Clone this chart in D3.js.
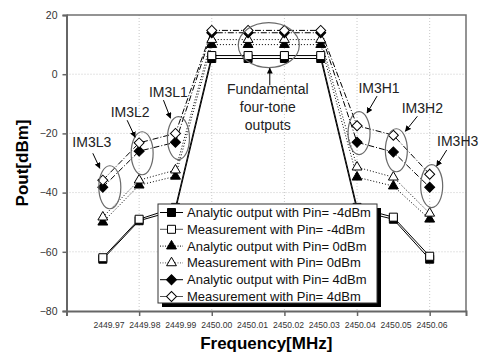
<!DOCTYPE html>
<html>
<head>
<meta charset="utf-8">
<script src="https://cdn.jsdelivr.net/npm/d3@7"></script>
<style>
  body { margin: 0; background: white; }
  svg { display: block; font-family: Arial, "Liberation Sans", sans-serif; }
</style>
</head>
<body>
<div id="chart"></div>
<script>
// frequencies (MHz) of the four tones and the IM3 products
const freqs = [2449.97, 2449.98, 2449.99, 2450.00, 2450.01, 2450.02, 2450.03, 2450.04, 2450.05, 2450.06];
const xTickLabels = ["2449.97", "2449.98", "2449.99", "2450.00", "2450.01", "2450.02", "2450.03", "2450.04", "2450.05", "2450.06"];
const xTickMarks = [2449.96, 2449.98, 2450.00, 2450.02, 2450.04, 2450.06];
const yTicks = [20, 0, -20, -40, -60, -80];

// output power (dBm)
const analyticM4 = [-62.5, -49.5, -46, 5.3, 5.3, 5.3, 5.3, -46, -49, -62.5];
const measureM4  = [-62, -49, -45, 6.3, 6.3, 6.3, 6.3, -45, -48.3, -61.5];
const analytic0  = [-50, -37.5, -34.5, 10, 10, 10, 10, -34.8, -37.8, -49];
const measure0   = [-48.3, -35.8, -32.4, 11.7, 11.7, 11.7, 11.7, -31.4, -34.8, -47];
const analytic4  = [-38.2, -26, -23, 14, 14, 14, 14, -23, -26.3, -38.2];
const measure4   = [-35.8, -23.2, -20, 14.8, 14.8, 14.8, 14.8, -17.4, -20.6, -33.8];

const seriesNames = [
    "Analytic output with Pin= -4dBm",
    "Measurement with Pin= -4dBm",
    "Analytic output with Pin= 0dBm",
    "Measurement with Pin= 0dBm",
    "Analytic output with Pin= 4dBm",
    "Measurement with Pin= 4dBm"
];

const width = 487, height = 354;
const plotLeft = 66.5, plotRight = 466, plotTop = 15, plotBottom = 311;

var series = [
    { name: seriesNames[0], values: analyticM4, shape: "square",   filled: true,  dash: null },
    { name: seriesNames[1], values: measureM4,  shape: "square",   filled: false, dash: null },
    { name: seriesNames[2], values: analytic0,  shape: "triangle", filled: true,  dash: "1,2" },
    { name: seriesNames[3], values: measure0,   shape: "triangle", filled: false, dash: "1,2" },
    { name: seriesNames[4], values: analytic4,  shape: "diamond",  filled: true,  dash: "6,2,1,2" },
    { name: seriesNames[5], values: measure4,   shape: "diamond",  filled: false, dash: "6,2,1,2" }
];

var x = d3.scaleLinear().domain([2449.96, 2450.07]).range([plotLeft, plotRight]);
var y = d3.scaleLinear().domain([-80, 20]).range([plotBottom, plotTop]);
// the tick labels sit a little off the tick marks in the original
var xLabel = d3.scaleLinear().domain([2449.97, 2450.06]).range([109, 432]);

var svg = d3.select("#chart")
    .append("svg")
    .attr("width", width)
    .attr("height", height)
    .style("background-color", "white");

// grid
svg.append("g")
    .selectAll("line")
    .data([0, -20, -40, -60])
    .join("line")
    .attr("x1", plotLeft).attr("x2", plotRight)
    .attr("y1", d => y(d)).attr("y2", d => y(d))
    .style("stroke", "#c8c8c8")
    .style("stroke-dasharray", "1,2");

svg.append("g")
    .selectAll("line")
    .data(xTickMarks.slice(1))
    .join("line")
    .attr("x1", d => x(d)).attr("x2", d => x(d))
    .attr("y1", plotTop).attr("y2", plotBottom)
    .style("stroke", "#c8c8c8")
    .style("stroke-dasharray", "1,2");

// frame top / right
svg.append("path")
    .attr("d", "M" + plotLeft + "," + plotTop + "H" + plotRight + "V" + plotBottom)
    .style("fill", "none")
    .style("stroke", "#707070")
    .style("stroke-width", 1.5);

// axes
var yAxis = svg.append("g")
    .attr("transform", "translate(" + plotLeft + ",0)")
    .call(d3.axisLeft(y).tickValues(yTicks).tickSize(4).tickPadding(5).tickFormat(d3.format("d")));
yAxis.select(".domain").style("stroke", "#666").style("stroke-width", 2);
yAxis.selectAll(".tick line").style("stroke", "#666").style("stroke-width", 1.5);
yAxis.selectAll("text").style("font-size", "10.5px").style("fill", "#333").style("font-family", "Arial");

var xAxis = svg.append("g")
    .attr("transform", "translate(0," + plotBottom + ")")
    .call(d3.axisBottom(x).tickValues(xTickMarks).tickSize(5).tickFormat(""));
xAxis.select(".domain").style("stroke", "#666").style("stroke-width", 2);
xAxis.selectAll(".tick line").style("stroke", "#666").style("stroke-width", 1.5);

svg.append("g")
    .selectAll("text")
    .data(freqs)
    .join("text")
    .attr("x", d => xLabel(d))
    .attr("y", plotBottom + 17)
    .attr("text-anchor", "middle")
    .style("font-size", "8.6px")
    .style("fill", "#333")
    .text((d, i) => xTickLabels[i]);

svg.append("text")
    .attr("x", (plotLeft + plotRight) / 2)
    .attr("y", 349)
    .attr("text-anchor", "middle")
    .style("font-size", "17px")
    .style("font-weight", "bold")
    .text("Frequency[MHz]");

svg.append("text")
    .attr("transform", "translate(28," + (plotTop + plotBottom) / 2 + ") rotate(-90)")
    .attr("text-anchor", "middle")
    .style("font-size", "17px")
    .style("font-weight", "bold")
    .text("Pout[dBm]");

// symbols
function symbolPath(shape) {
    if (shape == "square") return d3.symbol(d3.symbolSquare, 64)();
    if (shape == "triangle") return d3.symbol(d3.symbolTriangle, 42)();
    return d3.symbol(d3.symbolSquare, 50)();
}
function drawMarker(g, s, px, py) {
    g.append("path")
        .attr("d", symbolPath(s.shape))
        .attr("transform", "translate(" + px + "," + py + ")" + (s.shape == "diamond" ? " rotate(45)" : ""))
        .style("fill", s.filled ? "black" : "white")
        .style("stroke", "black")
        .style("stroke-width", 1);
}

var line = d3.line()
    .x((d, i) => x(freqs[i]))
    .y(d => y(d));

series.forEach(s => {
    svg.append("path")
        .datum(s.values)
        .attr("d", line)
        .style("fill", "none")
        .style("stroke", "black")
        .style("stroke-width", 1)
        .style("stroke-dasharray", s.dash);
});

series.forEach(s => {
    var g = svg.append("g");
    s.values.forEach((v, i) => drawMarker(g, s, x(freqs[i]), y(v)));
});

// annotations: ellipse centre in data units, label and arrow offsets in px
var im3Notes = [
    { name: "IM3L3", f: 2449.97, level: -38.2, dx: 7, lx: -18, ly: -40, arrow: [-17, -34, -10, -19] },
    { name: "IM3L2", f: 2449.98, level: -26.7, dx: 3, lx: -12, ly: -36, arrow: [-15, -33, -7, -16] },
    { name: "IM3L1", f: 2449.99, level: -21.6, dx: 3, lx: -10, ly: -41, arrow: [-15, -38, -8, -20] },
    { name: "IM3H1", f: 2450.04, level: -19.9, dx: 2, lx: 20, ly: -40, arrow: [18, -37, 8, -20] },
    { name: "IM3H2", f: 2450.05, level: -25.7, dx: 3, lx: 26, ly: -37, arrow: [21, -34, 9, -19] },
    { name: "IM3H3", f: 2450.06, level: -37.8, dx: 2, lx: 26, ly: -40, arrow: [15, -36, 5, -20] }
];

svg.append("defs").append("marker")
    .attr("id", "arrow")
    .attr("viewBox", "0 0 10 10")
    .attr("refX", 9).attr("refY", 5)
    .attr("markerWidth", 6).attr("markerHeight", 6)
    .attr("orient", "auto")
    .append("path")
    .attr("d", "M0,0L10,5L0,10z")
    .style("fill", "black");

function arrowTo(x1, y1, x2, y2) {
    svg.append("line")
        .attr("x1", x1).attr("y1", y1)
        .attr("x2", x2).attr("y2", y2)
        .style("stroke", "black")
        .style("stroke-width", 1)
        .attr("marker-end", "url(#arrow)");
}

im3Notes.forEach(n => {
    var cx = x(n.f) + n.dx, cy = y(n.level);
    svg.append("ellipse")
        .attr("cx", cx).attr("cy", cy)
        .attr("rx", 11).attr("ry", 21.5)
        .style("fill", "none")
        .style("stroke", "#6a6a6a")
        .style("stroke-width", 1.2);
    svg.append("text")
        .attr("x", cx + n.lx).attr("y", cy + n.ly)
        .attr("text-anchor", "middle")
        .style("font-size", "14px")
        .style("fill", "#222")
        .text(n.name);
    arrowTo(cx + n.arrow[0], cy + n.arrow[1], cx + n.arrow[2], cy + n.arrow[3]);
});

// fundamental tones
var fcx = x(2450.0157), fcy = y(9.8);
svg.append("ellipse")
    .attr("cx", fcx).attr("cy", fcy)
    .attr("rx", 30.5).attr("ry", 22.5)
    .style("fill", "none")
    .style("stroke", "#6a6a6a")
    .style("stroke-width", 1.2);
arrowTo(fcx + 1, fcy + 40, fcx + 1, fcy + 23);
["Fundamental", "four-tone", "outputs"].forEach((t, i) => {
    svg.append("text")
        .attr("x", fcx - 1)
        .attr("y", fcy + 49 + i * 18)
        .attr("text-anchor", "middle")
        .style("font-size", "14px")
        .style("fill", "#222")
        .text(t);
});

// legend
var lg = svg.append("g").attr("transform", "translate(158,204)");
lg.append("rect")
    .attr("x", 4).attr("y", 4)
    .attr("width", 219).attr("height", 99)
    .style("fill", "black");
lg.append("rect")
    .attr("width", 219).attr("height", 99)
    .style("fill", "white")
    .style("stroke", "#333")
    .style("stroke-width", 1);

series.forEach((s, i) => {
    var ry = 8.5 + i * 16.8;
    lg.append("line")
        .attr("x1", 2).attr("x2", 25)
        .attr("y1", ry).attr("y2", ry)
        .style("stroke", s.filled ? "black" : "#555")
        .style("stroke-width", 1)
        .style("stroke-dasharray", s.shape == "triangle" ? "1,1.5" : null);
    drawMarker(lg, s, 13.5, ry);
    lg.append("text")
        .attr("x", 29)
        .attr("y", ry + 4.5)
        .style("font-size", "13px")
        .style("fill", "#111")
        .text(s.name);
});
</script>
</body>
</html>
